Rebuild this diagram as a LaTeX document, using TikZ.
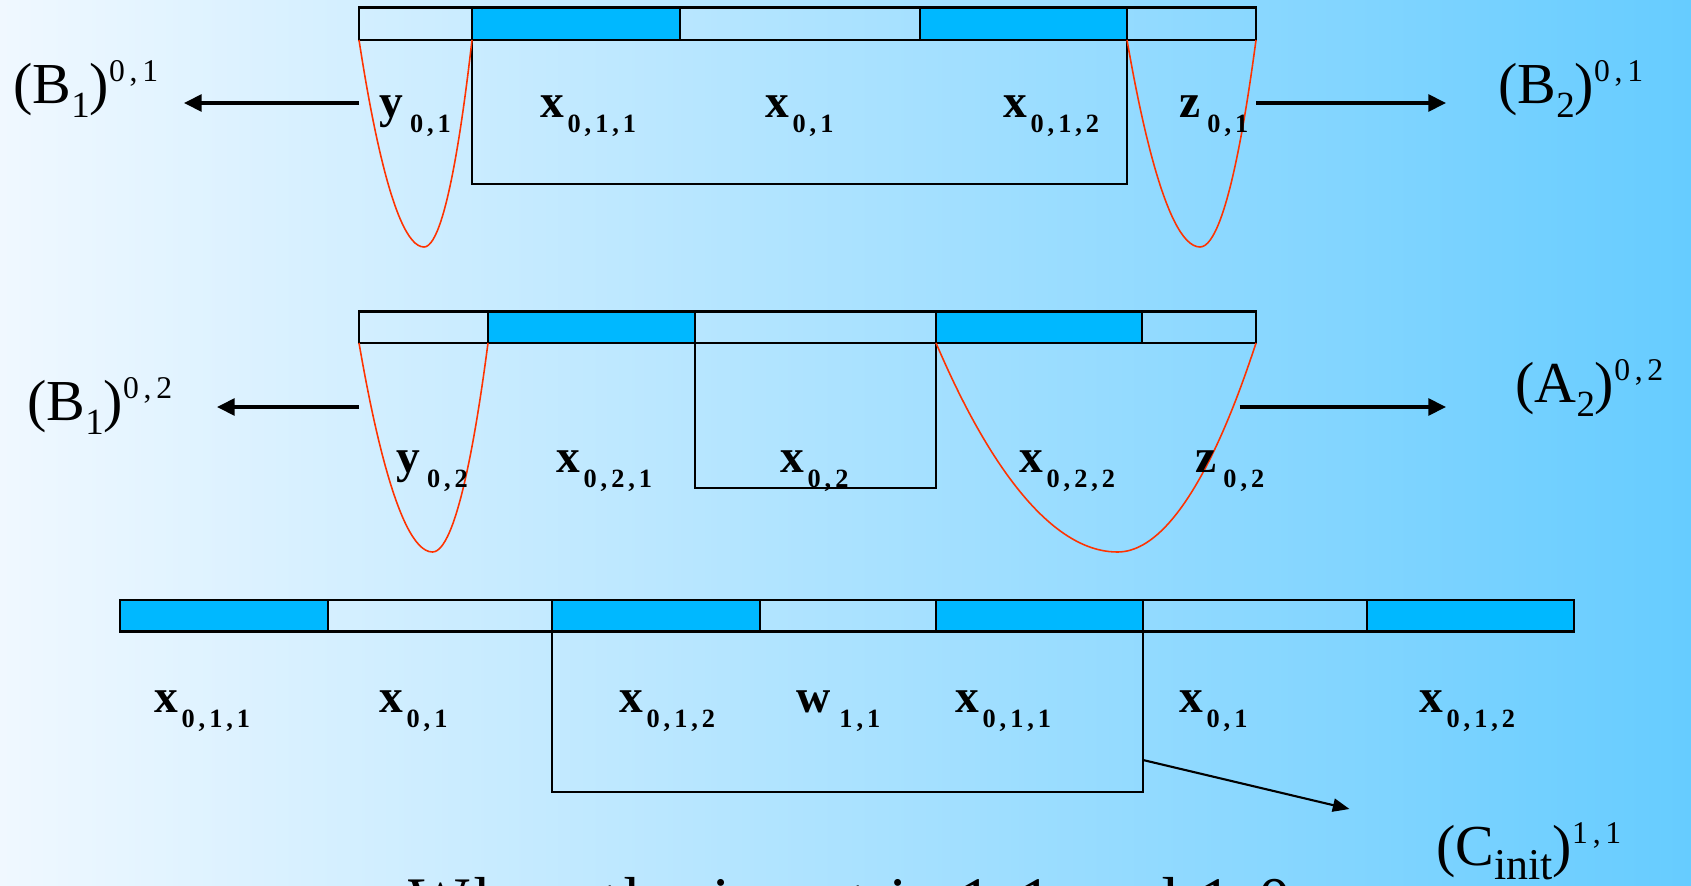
\documentclass[tikz,border=0pt]{standalone}
\usepackage{fontspec}
\setmainfont{Liberation Serif}
\newfontfamily\spacedfont[LetterSpace=15]{Liberation Serif}
\newfontfamily\capfont[LetterSpace=8.2]{Liberation Serif}
\usetikzlibrary{arrows.meta}
\definecolor{bgleft}{RGB}{240,248,255}
\definecolor{bgright}{RGB}{102,204,255}
\definecolor{barcyan}{RGB}{0,184,255}
\definecolor{cupred}{RGB}{255,51,0}
% bold variable with a lowered index
\newcommand{\varlbl}[3][2pt]{{\fontsize{27}{27}\selectfont\bfseries #2\kern#1\raisebox{-9pt}{\fontsize{15}{15}\selectfont\spacedfont\bfseries #3}}}
% (X_i)^{a,b}
\newcommand{\setlbl}[4][21]{{\fontsize{33}{33}\selectfont(#2\raisebox{-8.5pt}{\fontsize{#1}{#1}\selectfont #3})\raisebox{12pt}{\fontsize{18}{18}\selectfont\spacedfont #4}}}
\tikzset{
  cell/.style={draw, line width=1.35pt},
  hotcell/.style={cell, fill=barcyan},
  frame/.style={draw, line width=1.35pt},
  cup/.style={draw=cupred, line width=0.9pt},
  outarrow/.style={-{Triangle[length=10pt, width=9.5pt]}, line width=2pt},
  thinarrow/.style={-{Triangle[length=9.5pt, width=7.5pt]}, line width=1.2pt}
}
\begin{document}
\begin{tikzpicture}[x=0.02cm, y=-0.02cm, every node/.style={inner sep=0pt, anchor=base west}]
  \useasboundingbox (0,0) rectangle (1691,886);
  \clip (0,0) rectangle (1691,886);
  \shade[left color=bgleft, right color=bgright] (0,0) rectangle (1691,886);

  % first string
  \foreach \xa/\xb/\s in {359/472/cell, 472/680/hotcell, 680/920/cell, 920/1127/hotcell, 1127/1256/cell}
    \draw[\s] (\xa,7.5) rectangle (\xb,40);
  \draw[frame] (472,40) rectangle (1127,184);
  \draw[cup] (359,40) parabola bend (424,247) (472,40);
  \draw[cup] (1127,40) parabola bend (1200,247) (1256,40);
  \node (b1top) at (13,103) {\setlbl{B}{1}{0,1}};
  \node (b2top) at (1498,103) {\setlbl{B}{2}{0,1}};
  \node (y01) at (379,117) {\varlbl[4pt]{y}{0,1}};
  \node (x011top) at (540,117) {\varlbl{x}{0,1,1}};
  \node (x01top) at (765,117) {\varlbl{x}{0,1}};
  \node (x012top) at (1003,117) {\varlbl{x}{0,1,2}};
  \node (z01) at (1179,117) {\varlbl[4pt]{z}{0,1}};
  \coordinate (ycupA) at (359,103);
  \coordinate (b1tip) at (184,103);
  \coordinate (zcupA) at (1256,103);
  \coordinate (b2tip) at (1446,103);
  \draw[outarrow] (ycupA) -- (b1tip);
  \draw[outarrow] (zcupA) -- (b2tip);

  % second string
  \foreach \xa/\xb/\s in {359/488/cell, 488/695/hotcell, 695/936/cell, 936/1142/hotcell, 1142/1256/cell}
    \draw[\s] (\xa,311.5) rectangle (\xb,343);
  \draw[frame] (695,343) rectangle (936,488);
  \draw[cup] (359,343) parabola bend (432.5,552) (488,343);
  \draw[cup] (936,343) parabola bend (1117.5,552) (1256,343);
  \node (b1mid) at (27,420) {\setlbl{B}{1}{0,2}};
  \node (a2mid) at (1515,402) {\setlbl{A}{2}{0,2}};
  \node (y02) at (396,472) {\varlbl[4pt]{y}{0,2}};
  \node (x021) at (556,472) {\varlbl{x}{0,2,1}};
  \node (x02) at (780,472) {\varlbl{x}{0,2}};
  \node (x022) at (1019,472) {\varlbl{x}{0,2,2}};
  \node (z02) at (1195,472) {\varlbl[4pt]{z}{0,2}};
  \coordinate (ycupB) at (359,407);
  \coordinate (b1tipB) at (217,407);
  \coordinate (zcupB) at (1239.5,407);
  \coordinate (a2tip) at (1446,407);
  \draw[outarrow] (ycupB) -- (b1tipB);
  \draw[outarrow] (zcupB) -- (a2tip);

  % combined string
  \foreach \xa/\xb/\s in {120/328/hotcell, 328/552/cell, 552/760/hotcell, 760/936/cell, 936/1143/hotcell, 1143/1367/cell, 1367/1574/hotcell}
    \draw[\s] (\xa,600) rectangle (\xb,631.5);
  \draw[frame] (552,631.5) rectangle (1143,792);
  \node (x011a) at (154,712) {\varlbl{x}{0,1,1}};
  \node (x01a) at (379,712) {\varlbl{x}{0,1}};
  \node (x012a) at (619,712) {\varlbl{x}{0,1,2}};
  \node (w11) at (796,712) {\varlbl[5pt]{w}{1,1}};
  \node (x011b) at (955,712) {\varlbl{x}{0,1,1}};
  \node (x01b) at (1179,712) {\varlbl{x}{0,1}};
  \node (x012b) at (1419,712) {\varlbl{x}{0,1,2}};
  \node (cinit) at (1436,865) {\setlbl[25]{C}{init}{1,1}};
  \coordinate (boxout) at (1143,760);
  \coordinate (ctip) at (1349.5,809);
  \draw[thinarrow] (boxout) -- (ctip);

  \node (caption) at (408,922) {\fontsize{37}{37}\selectfont\capfont When the input is 1,1 and 1,0};
\end{tikzpicture}
\end{document}
